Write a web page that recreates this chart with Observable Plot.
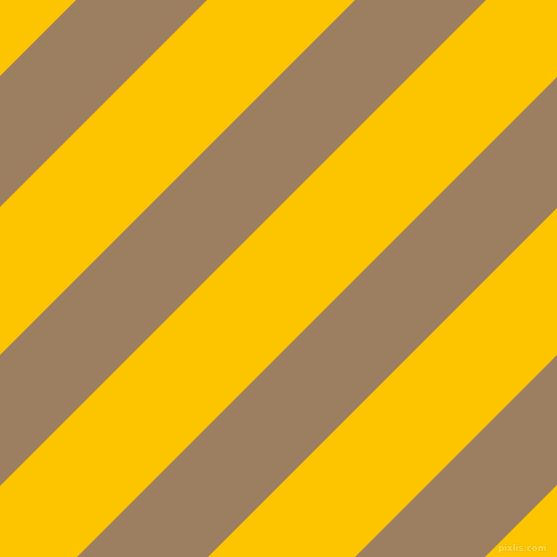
<!DOCTYPE html>
<html>
<head>
<meta charset="utf-8">
<script src="https://cdn.jsdelivr.net/npm/d3@7"></script>
<script src="https://cdn.jsdelivr.net/npm/@observablehq/plot@0.6"></script>
<style>
  html, body { margin: 0; padding: 0; background: #FDC500; overflow: hidden; }
  svg { display: block; }
</style>
</head>
<body>
<div id="chart"></div>
<script>
// Diagonal stripes: each brown band lies between the lines x + y = start and x + y = end
const bandStart = [-203, 76, 355, 634, 912];
const bandEnd   = [-72, 207, 486, 765, 1042];
const xEdges = [0, 557];
const yellow = "#FDC500";
const brown = "#9C7F61";
const watermark = ["pixlis.com"];

const rows = [];
bandStart.forEach((s, i) => {
  xEdges.forEach(x => rows.push({band: i, x, y1: s - x, y2: bandEnd[i] - x}));
});

const chart = Plot.plot({
  width: 557,
  height: 557,
  margin: 0,
  x: {domain: [0, 557], range: [0, 557], axis: null},
  y: {domain: [0, 557], range: [0, 557], axis: null},
  marks: [
    Plot.frame({fill: yellow, stroke: "none"}),
    Plot.areaY(rows, {x: "x", y1: "y1", y2: "y2", z: "band", fill: brown, clip: true, curve: "linear"}),
    Plot.text(watermark, {frameAnchor: "bottom-right", dx: -11, dy: -7, text: d => d, fill: "#FFD94D", stroke: "#E0AE00", strokeWidth: 0.6, paintOrder: "stroke", fontSize: 8.5, fontFamily: "DejaVu Sans", fontWeight: "bold"})
  ]
});
document.getElementById("chart").appendChild(chart);
</script>
</body>
</html>
